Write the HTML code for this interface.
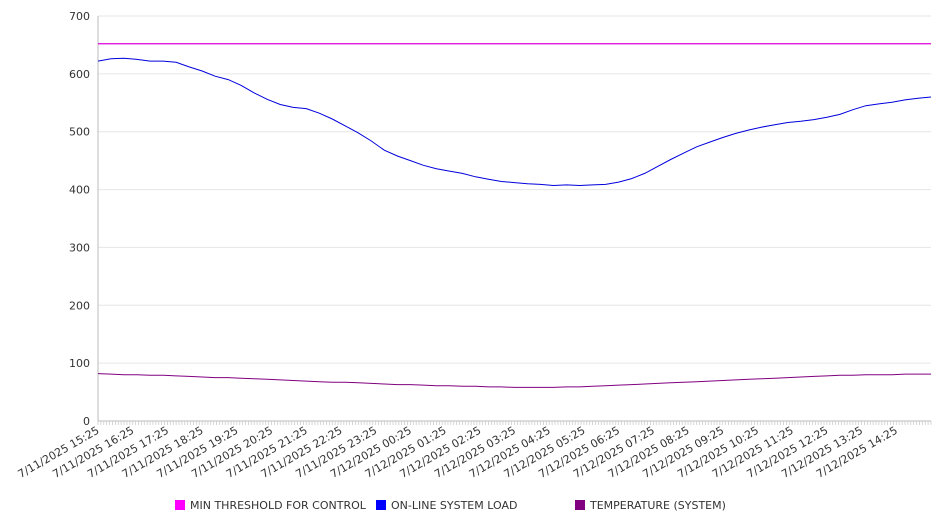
<!DOCTYPE html>
<html><head><meta charset="utf-8"><style>
body{margin:0;background:#fff;}
svg{display:block;font-family:"DejaVu Sans","Liberation Sans",sans-serif;}
</style></head><body>
<svg id="chart" width="946" height="526" viewBox="0 0 946 526"></svg>
<script>
const xLabels=["15:25","16:25","17:25","18:25","19:25","20:25","21:25","22:25","23:25","00:25","01:25","02:25","03:25","04:25","05:25","06:25","07:25","08:25","09:25","10:25","11:25","12:25","13:25","14:25"];
const yTicks=[0,100,200,300,400,500,600,700];
const thresholdValue=652;
const loadValues=[622,626,627,625,622,622,620,612,605,596,590,580,567,556,547,542,540,532,522,510,498,484,468,458,450,442,436,432,428,422,418,414,412,410,409,407,408,407,408,409,413,419,428,440,452,463,474,482,490,497,503,508,512,516,518,521,525,530,538,545,548,551,555,558,560];
const tempValues=[82,81,80,80,79,79,78,77,76,75,75,74,73,72,71,70,69,68,67,67,66,65,64,63,63,62,61,61,60,60,59,59,58,58,58,58,59,59,60,61,62,63,64,65,66,67,68,69,70,71,72,73,74,75,76,77,78,79,79,80,80,80,81,81,81];
const X0=98,X1=931,Y0=421,Y1=16;
const xs=h=>X0+h/24*(X1-X0);
const ys=v=>Y0-v/700*(Y0-Y1);
const svg=document.getElementById('chart');
const NS='http://www.w3.org/2000/svg';
function mk(t,a,p){const e=document.createElementNS(NS,t);for(const k in a)e.setAttribute(k,a[k]);(p||svg).appendChild(e);return e;}
yTicks.forEach(v=>{
 const g=mk('line',{x1:X0,x2:X1,y1:ys(v),y2:ys(v),stroke:v===0?'#bbb':'#e6e6e6','stroke-width':1});
 
 
 const t=mk('text',{x:90,y:ys(v)+4,'text-anchor':'end','font-size':11,fill:'#333'});
 t.textContent=v;
 
 
});
const ax=mk('line',{x1:X0,x2:X0,y1:Y1,y2:Y0,stroke:'#bbb'});


for(let i=0;i<=288;i++){const x=xs(i/12);const tk=mk('line',{x1:x,x2:x,y1:Y0,y2:Y0+4,stroke:'#ccc','stroke-width':0.8});
 
 }
xLabels.forEach((l,i)=>{
 const x=xs(i),y=Y0+8;
 const date=i<9?'7/11/2025 ':'7/12/2025 ';
 const t=mk('text',{x:x,y:y+4,'text-anchor':'end','font-size':11,fill:'#333',transform:`rotate(-30 ${x} ${y})`});
 t.textContent=date+l;
 
 
});
function line(vals,color,name){
 const n=vals.length-1;
 const d=vals.map((v,i)=>(i?'L':'M')+xs(i*24/n).toFixed(1)+','+ys(v).toFixed(1)).join('');
 const p=mk('path',{d:d,fill:'none',stroke:color,'stroke-width':1});
 
 
}
const th=mk('line',{x1:X0,x2:X1,y1:ys(thresholdValue),y2:ys(thresholdValue),stroke:'#dd00dd','stroke-width':1.2});


line(loadValues,'#0000dd','load-line');
line(tempValues,'#800080','temperature-line');
const legend=[['MIN THRESHOLD FOR CONTROL','#ff00ff',175],['ON-LINE SYSTEM LOAD','#0000ff',376],['TEMPERATURE (SYSTEM)','#800080',575]];
legend.forEach(([n,c,x])=>{
 const r=mk('rect',{x:x,y:500,width:10,height:10,fill:c});
 
 
 const t=mk('text',{x:x+15,y:509,'font-size':11,fill:'#333'});
 t.textContent=n;
 
 
});
</script>
</body></html>
